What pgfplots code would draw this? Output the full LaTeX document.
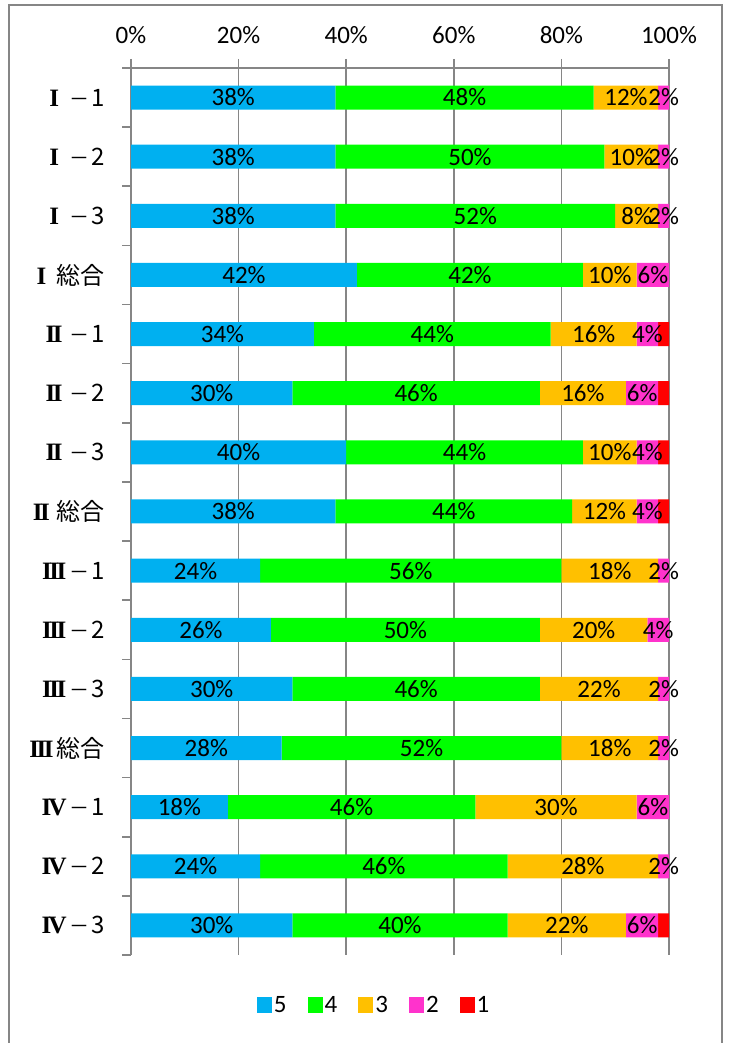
\documentclass[border=0pt]{standalone}
\usepackage{pgfplots}
\pgfplotsset{compat=1.18}
\usepackage{pgfplotstable}
\usepackage{fontspec}
\setmainfont{Carlito}
\newfontfamily\jp{Noto Sans CJK JP}
\newfontfamily\rnf{Liberation Serif}

\definecolor{c5}{HTML}{00B0F0}
\definecolor{c4}{HTML}{00FF00}
\definecolor{c3}{HTML}{FFC000}
\definecolor{c2}{HTML}{FF33CC}
\definecolor{c1}{HTML}{FF0000}
\definecolor{framegray}{RGB}{134,134,134}

% category label: serif Roman numeral + Japanese part
\newcommand\rn[1]{\makebox[22pt][c]{\rnf\bfseries\fontsize{25}{26}\selectfont #1}}
\newcommand\sub[2]{\rn{#1}\hspace{4pt}{\fontsize{20}{22}\selectfont －}\hspace{2pt}#2}
\newcommand\tot[1]{\rn{#1}\hspace{4pt}総合}
\newcommand\RI{I}
\newcommand\RII{I\kern-2.5ptI}
\newcommand\RIII{I\kern-2.5ptI\kern-2.5ptI}
\newcommand\RIV{I\kern-2.5ptV}

% rows listed bottom (IV-3) to top (I-1)
\pgfplotstableread{
pos v5 v4 v3 v2 v1
0  30 40 22 6 2
1  24 46 28 2 0
2  18 46 30 6 0
3  28 52 18 2 0
4  30 46 22 2 0
5  26 50 20 4 0
6  24 56 18 2 0
7  38 44 12 4 2
8  40 44 10 4 2
9  30 46 16 6 2
10 34 44 16 4 2
11 42 42 10 6 0
12 38 52 8  2 0
13 38 50 10 2 0
14 38 48 12 2 0
}\data

% value label inside each segment, empty when the share is 0
\pgfplotsset{
  lbl/.style={
    visualization depends on={rawx \as \rawx},
    nodes near coords={\ifdim\rawx pt>0.5pt \pgfmathprintnumber[assume math mode=true]{\rawx}\%\fi},
    every node near coord/.append style={anchor=center,
      font=\fontsize{25}{30}\selectfont, text=black, inner sep=0pt},
  },
}

\begin{document}
\begin{tikzpicture}
\useasboundingbox (0,0) rectangle (729pt,1043pt);
\draw[framegray, line width=1.5pt] (9pt,-5pt) -- (9pt,1038pt) -- (722pt,1038pt) -- (722pt,-5pt);
\begin{axis}[
  at={(131pt,88pt)}, anchor=south west,
  scale only axis, width=538pt, height=887pt,
  xbar stacked, bar width=24pt,
  xmin=0, xmax=100, ymin=-0.5, ymax=14.5,
  axis x line=top, axis y line=left,
  axis line style={-, draw=framegray, line width=1.6pt},
  xtick={0,20,...,100},
  xticklabels={0\%,20\%,40\%,60\%,80\%,100\%},
  xticklabel style={font=\fontsize{25}{30}\selectfont, yshift=12pt},
  ytick={-0.5,0.5,...,14.5},
  yticklabels={{},\sub{\RIV}{3},\sub{\RIV}{2},\sub{\RIV}{1},\tot{\RIII},\sub{\RIII}{3},\sub{\RIII}{2},\sub{\RIII}{1},
    \tot{\RII},\sub{\RII}{3},\sub{\RII}{2},\sub{\RII}{1},\tot{\RI},\sub{\RI}{3},\sub{\RI}{2},\sub{\RI}{1}},
  yticklabel style={font=\jp\fontsize{24}{28}\selectfont, yshift=-29.57pt, xshift=-14pt},
  tick align=outside, major tick length=9pt,
  tick style={draw=framegray, line width=1.6pt},
  xmajorgrids, grid style={draw=framegray, line width=1.6pt},
  legend style={at={(0.452,-0.0564)}, anchor=center, legend columns=-1, draw=none,
    font=\fontsize{25}{30}\selectfont,
    /tikz/every even column/.append style={column sep=19pt}},
  legend image code/.code={\fill[#1] (0pt,-8pt) rectangle (15pt,8pt);},
]
\addplot[fill=c5, draw=none, lbl] table[x=v5, y=pos] {\data};
\addplot[fill=c4, draw=none, lbl] table[x=v4, y=pos] {\data};
\addplot[fill=c3, draw=none, lbl] table[x=v3, y=pos] {\data};
\addplot[fill=c2, draw=none, lbl] table[x=v2, y=pos] {\data};
\addplot[fill=c1, draw=none] table[x=v1, y=pos] {\data};
\legend{5,4,3,2,1}
\end{axis}
\end{tikzpicture}
\end{document}
